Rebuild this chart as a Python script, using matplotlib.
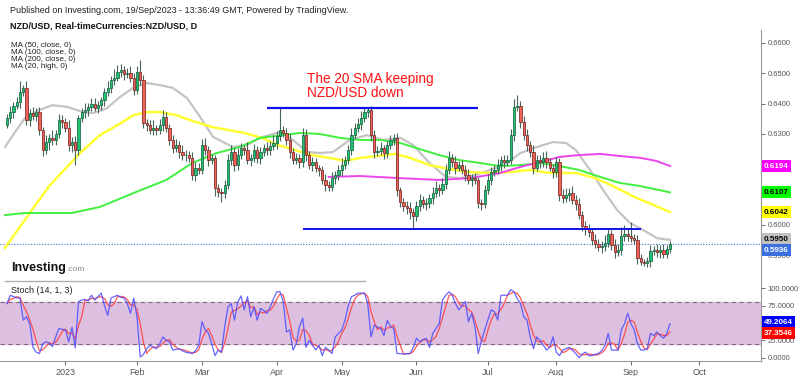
import matplotlib

matplotlib.use("Agg")
import matplotlib.pyplot as plt
import matplotlib.transforms as mtransforms
from matplotlib.lines import Line2D
import numpy as np
import pandas as pd

plt.rcParams['font.family'] = ['Liberation Sans', 'DejaVu Sans']

W, H = 800, 376

# ── Data ──────────────────────────────────────────────────────────────────
START = "2022-12-07"
open_first = 0.6330
close = [
    0.6352, 0.6372, 0.6392, 0.6405, 0.6438, 0.6451, 0.6346, 0.6369, 0.6359, 0.6372,
    0.6313, 0.6247, 0.6273, 0.6287, 0.6280, 0.6300, 0.6346, 0.6340, 0.6320, 0.6263,
    0.6273, 0.6247, 0.6352, 0.6372, 0.6379, 0.6389, 0.6399, 0.6386, 0.6395, 0.6412,
    0.6438, 0.6451, 0.6478, 0.6485, 0.6504, 0.6511, 0.6498, 0.6501, 0.6485, 0.6445,
    0.6504, 0.6478, 0.6336, 0.6329, 0.6313, 0.6320, 0.6313, 0.6329, 0.6356, 0.6320,
    0.6280, 0.6253, 0.6263, 0.6240, 0.6230, 0.6232, 0.6220, 0.6164, 0.6188, 0.6181,
    0.6263, 0.6247, 0.6214, 0.6220, 0.6121, 0.6108, 0.6105, 0.6131, 0.6214, 0.6240,
    0.6197, 0.6230, 0.6253, 0.6247, 0.6214, 0.6220, 0.6247, 0.6220, 0.6240, 0.6253,
    0.6247, 0.6260, 0.6270, 0.6293, 0.6313, 0.6303, 0.6280, 0.6240, 0.6214, 0.6220,
    0.6207, 0.6296, 0.6230, 0.6197, 0.6207, 0.6188, 0.6181, 0.6148, 0.6131, 0.6125,
    0.6154, 0.6164, 0.6181, 0.6197, 0.6214, 0.6247, 0.6296, 0.6320, 0.6333, 0.6352,
    0.6372, 0.6379, 0.6296, 0.6240, 0.6245, 0.6253, 0.6237, 0.6263, 0.6280, 0.6287,
    0.6115, 0.6075, 0.6062, 0.6055, 0.6042, 0.6029, 0.6062, 0.6082, 0.6069, 0.6072,
    0.6088, 0.6105, 0.6121, 0.6115, 0.6135, 0.6181, 0.6220, 0.6207, 0.6188, 0.6197,
    0.6181, 0.6164, 0.6148, 0.6155, 0.6148, 0.6072, 0.6070, 0.6115, 0.6148, 0.6174,
    0.6181, 0.6197, 0.6214, 0.6207, 0.6214, 0.6296, 0.6389, 0.6392, 0.6340, 0.6296,
    0.6263, 0.6240, 0.6188, 0.6214, 0.6207, 0.6220, 0.6207, 0.6188, 0.6174, 0.6207,
    0.6098, 0.6088, 0.6098, 0.6105, 0.6082, 0.6069, 0.6032, 0.5996, 0.5986, 0.5976,
    0.5950, 0.5937, 0.5927, 0.5930, 0.5940, 0.5970, 0.5933, 0.5910, 0.5917, 0.5963,
    0.5970, 0.5963, 0.5956, 0.5950, 0.5890, 0.5877, 0.5875, 0.5880, 0.5913, 0.5917,
    0.5910, 0.5917, 0.5904, 0.5920, 0.5936,
]
# upper / lower wick length in pips
wick_hi = [
    15, 20, 12, 18, 36, 10, 25, 12, 20, 15, 18, 10, 22, 14, 25, 12, 20, 15, 12, 25,
    18, 20, 10, 15, 22, 12, 18, 20, 14, 10, 15, 25, 12, 30, 23, 20, 12, 18, 22, 15,
    20, 40, 15, 12, 18, 25, 10, 20, 22, 15, 12, 18, 20, 14, 25, 15, 12, 20, 18, 15,
    20, 25, 12, 15, 10, 15, 12, 18, 20, 25, 15, 22, 18, 12, 25, 15, 20, 12, 18, 15,
    20, 15, 25, 18, 72, 12, 15, 20, 12, 18, 15, 22, 20, 12, 18, 15, 10, 12, 18, 15,
    20, 12, 15, 25, 12, 18, 22, 15, 20, 25, 15, 10, 12, 18, 15, 20, 12, 15, 18, 12,
    15, 10, 12, 18, 20, 12, 15, 20, 12, 18, 15, 20, 25, 12, 18, 20, 25, 15, 20, 12,
    18, 15, 20, 12, 15, 10, 12, 15, 20, 18, 15, 20, 12, 18, 15, 20, 25, 35, 15, 18,
    20, 12, 25, 15, 18, 20, 22, 15, 12, 18, 15, 20, 25, 18, 22, 15, 20, 12, 18, 15,
    12, 20, 15, 18, 25, 15, 12, 20, 18, 30, 30, 15, 45, 12, 15, 12, 10, 15, 20, 12,
    18, 15, 20, 12, 10,
]
wick_lo = [
    12, 15, 18, 10, 20, 12, 15, 20, 12, 18, 15, 20, 12, 25, 15, 18, 12, 20, 15, 18,
    22, 50, 15, 12, 18, 20, 15, 12, 18, 15, 20, 12, 15, 18, 12, 15, 20, 12, 15, 18,
    12, 15, 18, 20, 12, 15, 18, 12, 20, 15, 18, 15, 12, 20, 15, 18, 12, 15, 20, 12,
    15, 18, 20, 12, 25, 15, 30, 15, 12, 18, 20, 15, 12, 18, 15, 20, 12, 15, 18, 12,
    15, 18, 12, 20, 15, 12, 18, 20, 15, 12, 18, 15, 20, 12, 18, 15, 20, 12, 18, 15,
    12, 18, 15, 20, 12, 15, 18, 12, 15, 20, 12, 15, 20, 18, 12, 15, 20, 18, 12, 15,
    20, 15, 18, 20, 22, 44, 15, 18, 12, 20, 15, 18, 12, 20, 15, 18, 12, 15, 20, 12,
    15, 18, 12, 20, 15, 18, 20, 15, 12, 18, 12, 15, 20, 18, 12, 15, 18, 12, 20, 15,
    18, 15, 20, 12, 18, 15, 20, 12, 18, 15, 20, 15, 12, 18, 15, 20, 12, 18, 20, 15,
    18, 12, 15, 20, 18, 12, 15, 20, 12, 18, 15, 18, 12, 15, 20, 10, 12, 15, 18, 12,
    15, 18, 12, 15, 12,
]

# Moving averages, sampled at bar positions
ma50_idx = [-0.6, 7, 13, 18.5, 22.5, 28.6, 34, 39, 43, 47, 52, 57, 63, 68, 73, 78.5, 83.5,
            88.6, 94, 99, 104, 109, 114, 119.4, 124, 130, 136, 142.5, 148.6, 155, 161, 167,
            175, 181, 187, 193, 199, 204]
ma50_val = [0.5924, 0.6039, 0.6128, 0.6191, 0.6237, 0.6296, 0.6329, 0.6362, 0.6372, 0.6372,
            0.6362, 0.6343, 0.6323, 0.6313, 0.6303, 0.6287, 0.6263, 0.6247, 0.6230, 0.6221,
            0.6211, 0.6221, 0.6227, 0.6234, 0.6221, 0.6197, 0.6184, 0.6174, 0.6171, 0.6174,
            0.6181, 0.6171, 0.6171, 0.6154, 0.6125, 0.6092, 0.6065, 0.6042]
ma100_idx = [-0.6, 5.5, 13, 20, 28.6, 39, 49, 57, 64.6, 71.7, 78, 85, 90, 96, 102.5, 108.6,
             114.8, 121, 127, 133, 139, 145.5, 151.7, 158, 164, 170, 176, 182.5, 188.6,
             194.8, 204]
ma100_val = [0.6032, 0.6039, 0.6039, 0.6039, 0.6059, 0.6105, 0.6148, 0.6204, 0.6237, 0.6257,
             0.6287, 0.6296, 0.6303, 0.6300, 0.6287, 0.6280, 0.6280, 0.6270, 0.6250, 0.6230,
             0.6214, 0.6204, 0.6194, 0.6197, 0.6204, 0.6194, 0.6181, 0.6158, 0.6138, 0.6128,
             0.6107]
ma200_idx = [99, 108.6, 121, 133, 142.5, 151.7, 158, 164, 170, 176, 182.5, 188.6, 194.8,
             199.7, 204]
ma200_val = [0.6158, 0.6161, 0.6154, 0.6148, 0.6154, 0.6171, 0.6191, 0.6207, 0.6224, 0.6230,
             0.6234, 0.6227, 0.6221, 0.6211, 0.6194]
ma20h_idx = [-0.6, 2.5, 5.5, 10, 14, 18.5, 23.4, 26.5, 30.8, 34.8, 38.8, 43, 47, 51, 55.4,
             59.4, 63.4, 69.5, 73.8, 77.8, 84, 88, 92.3, 96.3, 100.3, 105.5, 110.8, 115.7,
             121, 125, 130, 135, 139.4, 144, 148.6, 153, 158, 164, 168, 172, 175, 179.4,
             183.4, 187.7, 191.7, 195.7, 200, 204]
ma20h_val = [0.6257, 0.6306, 0.6352, 0.6379, 0.6395, 0.6389, 0.6372, 0.6369, 0.6385, 0.6422,
             0.6452, 0.6468, 0.6461, 0.6452, 0.6418, 0.6356, 0.6290, 0.6257, 0.6263, 0.6287,
             0.6306, 0.6280, 0.6240, 0.6237, 0.6240, 0.6280, 0.6296, 0.6280, 0.6287, 0.6263,
             0.6204, 0.6158, 0.6154, 0.6164, 0.6181, 0.6197, 0.6237, 0.6260, 0.6273, 0.6270,
             0.6247, 0.6181, 0.6115, 0.6049, 0.6006, 0.5983, 0.5956, 0.5950]

# Stochastic %K (14, 1) per bar
stoch_k = [
    78, 90, 88, 86, 86, 54, 59, 49, 15, 8, 6, 20, 23, 21, 16, 30, 42, 41, 40, 23,
    44, 14, 81, 83, 84, 82, 90, 83, 88, 93, 75, 61, 86, 88, 90, 87, 86, 78, 64, 86,
    59, 1, 5, 13, 18, 15, 13, 20, 30, 25, 23, 11, 12, 13, 10, 8, 7, 6, 10, 18,
    52, 40, 35, 20, 3, 11, 8, 45, 73, 78, 54, 80, 89, 69, 88, 59, 73, 54, 71, 68,
    64, 73, 85, 95, 95, 81, 37, 40, 11, 20, 45, 57, 15, 25, 18, 11, 18, 3, 15, 11,
    6, 30, 35, 40, 54, 75, 88, 90, 93, 93, 93, 78, 30, 47, 44, 42, 32, 54, 45, 42,
    6, 6, 5, 6, 6, 15, 28, 23, 26, 28, 15, 35, 42, 49, 83, 90, 95, 90, 78, 69,
    75, 81, 52, 64, 44, 6, 25, 40, 55, 69, 66, 54, 90, 90, 90, 98, 95, 85, 78, 59,
    54, 30, 13, 30, 25, 18, 11, 15, 30, 8, 3, 11, 13, 15, 11, 6, 0, 5, 8, 3,
    3, 5, 6, 10, 18, 35, 11, 11, 11, 40, 49, 64, 49, 40, 20, 11, 11, 13, 35, 32,
    37, 32, 28, 35, 49,
]
stoch_k_last = 49.2064
stoch_d_last = 37.3546

resist_level = 0.6386
support_level = 0.5986

# ── Derived series ────────────────────────────────────────────────────────
c = np.asarray(close)
o = np.r_[open_first, c[:-1]]
hi = np.maximum(o, c) + np.asarray(wick_hi) * 1e-4
lo = np.minimum(o, c) - np.asarray(wick_lo) * 1e-4
idx = np.arange(len(c))
k = pd.Series(stoch_k, dtype=float)
d = k.rolling(3, min_periods=1).mean()

dates = pd.bdate_range(START, "2023-10-31")
tick_pos, tick_lab = [], []
for i in range(1, len(dates)):
    if dates[i].month != dates[i - 1].month:
        tick_pos.append(i)
        tick_lab.append("2023" if dates[i].month == 1 else dates[i].strftime("%b"))

# ── Figure ────────────────────────────────────────────────────────────────
fig = plt.figure(figsize=(W / 100, H / 100), dpi=100)


def px_axes(x0, y0, x1, y1):
    return fig.add_axes([x0 / W, 1 - y1 / H, (x1 - x0) / W, (y1 - y0) / H])


ax = px_axes(0, 30, 761, 280)
ax2 = px_axes(0, 281, 761, 361)
XLIM = (-2.15, 232)
AXCOL = "#9a9a9a"
TXTCOL = "#555555"

GREEN, GREEN_EDGE = "#1fc172", "#0d5a34"
RED, RED_EDGE = "#f0625a", "#6e1b14"
WICK = "#46665a"

ax.vlines(idx, lo, hi, color=WICK, lw=0.8, zorder=3)
up = c >= o
blo = np.minimum(o, c)
bh = np.maximum(np.abs(c - o), 0.00008)
ax.bar(idx[up], bh[up], bottom=blo[up], width=0.72, color=GREEN,
       edgecolor=GREEN_EDGE, lw=0.5, zorder=4)
ax.bar(idx[~up], bh[~up], bottom=blo[~up], width=0.72, color=RED,
       edgecolor=RED_EDGE, lw=0.5, zorder=4)

ax.plot(ma20h_idx, ma20h_val, color="#c4c4c4", lw=1.6, zorder=2)
ax.plot(ma50_idx, ma50_val, color="#ffff33", lw=1.8, zorder=2)
ax.plot(ma100_idx, ma100_val, color="#3ff03f", lw=1.4, zorder=2)
ax.plot(ma200_idx, ma200_val, color="#ee44ee", lw=1.4, zorder=2)

ax.axhline(c[-1], color="#3a6fe0", lw=0.8, ls=(0, (1, 1.5)), zorder=1)
ax.hlines(resist_level, 80, 145, color="#1010e8", lw=1.6, zorder=5)
ax.hlines(support_level, 91, 195, color="#1010e8", lw=1.4, zorder=5)

ax.set_xlim(XLIM)
ax.set_ylim(0.58178, 0.66429)
# 0.6200 / 0.6100 sit under the MA value tags, as in the original
price_ticks = [0.59, 0.60, 0.63, 0.64, 0.65, 0.66]
ax.set_yticks(price_ticks)
ax.set_yticks([0.61, 0.62], minor=True)
ax.yaxis.tick_right()
ax.yaxis.set_major_formatter(matplotlib.ticker.FormatStrFormatter("%.4f"))
ax.tick_params(axis="y", which="both", labelsize=5.5, colors=TXTCOL, length=3,
               width=0.6, pad=2)
ax.set_xticks([])
for s in ("top", "left", "bottom"):
    ax.spines[s].set_visible(False)
ax.spines["right"].set_color(AXCOL)


def price_tag(axis, y, text, bg, fg):
    tr = mtransforms.blended_transform_factory(axis.transAxes, axis.transData)
    axis.text(1.004, y, text, transform=tr, ha="left", va="center", fontsize=5.8,
              color=fg, fontweight="bold", clip_on=False, zorder=10,
              bbox=dict(boxstyle="square,pad=0.3", fc=bg, ec="none"))


price_tag(ax, ma200_val[-1], f"{ma200_val[-1]:.4f}", "#ff00ff", "white")
price_tag(ax, ma100_val[-1], f"{ma100_val[-1]:.4f}", "#00ff00", "black")
price_tag(ax, ma50_val[-1], f"{ma50_val[-1]:.4f}", "#ffff00", "black")
price_tag(ax, ma20h_val[-1] + 0.0002, f"{ma20h_val[-1]:.4f}", "#c0c0c0", "black")
price_tag(ax, c[-1] - 0.0020, f"{c[-1]:.4f}", "#3c70e0", "white")

# Stochastic pane
ax2.axhspan(20, 80, color="#ddbfe0", zorder=0)
for lvl in (20, 80):
    ax2.axhline(lvl, color="#7f6a80", lw=0.8, ls=(0, (4, 3)), zorder=1)
ax2.plot(idx, k, color="#4b4bff", lw=0.9, alpha=0.85, zorder=3)
ax2.plot(idx, d, color="#ff3a3a", lw=0.9, alpha=0.85, zorder=2)
ax2.set_xlim(XLIM)
ax2.set_ylim(-4.75, 110.5)
ax2.set_yticks([0, 25, 75, 100])
ax2.set_yticks([50], minor=True)
ax2.yaxis.tick_right()
ax2.yaxis.set_major_formatter(matplotlib.ticker.FormatStrFormatter("%.4f"))
ax2.tick_params(axis="y", which="both", labelsize=5.5, colors=TXTCOL, length=3,
                width=0.6, pad=2)
ax2.set_xticks(tick_pos)
ax2.set_xticklabels(tick_lab)
ax2.tick_params(axis="x", labelsize=6.5, colors=TXTCOL, length=3, width=0.6, pad=2)
for s in ("top", "left"):
    ax2.spines[s].set_visible(False)
for s in ("right", "bottom"):
    ax2.spines[s].set_color(AXCOL)
price_tag(ax2, k.iloc[-1] + 2, f"{stoch_k_last:.4f}", "#0000ff", "white")
price_tag(ax2, d.iloc[-1] - 2, f"{stoch_d_last:.4f}", "#ff0000", "white")

# ── Texts ─────────────────────────────────────────────────────────────────
def ftext(x, y, s, **kw):
    return fig.text(x / W, 1 - y / H, s, **kw)


ftext(10, 13, "Published on Investing.com, 19/Sep/2023 - 13:36:49 GMT, Powered by TradingView.",
      fontsize=6.5, color="#222222", va="baseline")
ftext(10, 28, "NZD/USD, Real-timeCurrencies:NZD/USD, D", fontsize=6.5,
      fontweight="bold", color="#111111", va="baseline")
for j, s in enumerate(["MA (50, close, 0)", "MA (100, close, 0)",
                       "MA (200, close, 0)", "MA (20, high, 0)"]):
    ftext(11, 47 + 7 * j, s, fontsize=5.8, color="#222222", va="baseline")

ftext(307, 83, "The 20 SMA keeping", fontsize=9.8, color="#ff1010", va="baseline")
ftext(307, 97, "NZD/USD down", fontsize=9.8, color="#ff1010", va="baseline")

ftext(11, 271, "Investing", fontsize=9, fontweight="bold", color="#111111", va="baseline")
ftext(66, 271, ".com", fontsize=6, color="#888888", va="baseline")
fig.add_artist(Line2D([5 / W, 365 / W], [1 - 281 / H, 1 - 281 / H],
                      color="#b0b0b0", lw=1.0))
ftext(11, 293, "Stoch (14, 1, 3)", fontsize=6.5, color="#222222", va="baseline")

fig.savefig("out.png", dpi=100)
